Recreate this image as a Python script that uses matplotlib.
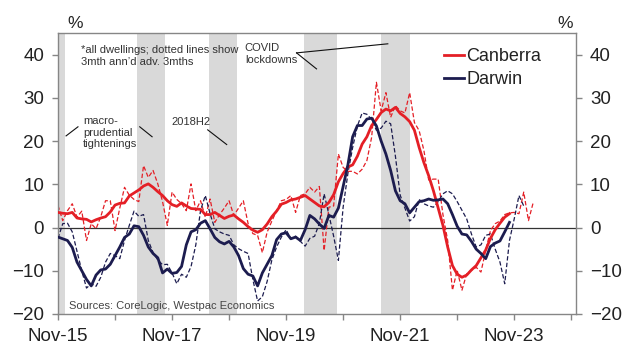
import matplotlib
matplotlib.use("Agg")
import matplotlib.pyplot as plt
import numpy as np

plt.rcParams['font.family'] = ['Liberation Sans', 'DejaVu Sans']

# Monthly series, month 0 = Nov-2015
canberra = [3.5, 3.3, 3.2, 3.5, 2.2, 2.0, 1.9, 1.3, 1.8, 2.2,
            2.5, 3.6, 5.2, 5.6, 5.7, 7.3, 8.0, 8.7, 9.6, 10.1,
            9.3, 8.3, 7.4, 6.2, 5.3, 4.9, 5.7, 5.0, 4.4, 4.3,
            4.2, 3.0, 3.0, 3.5, 2.8, 2.1, 2.6, 2.9, 2.0, 1.2,
            0.2, -0.6, -1.1, -0.5, 0.8, 2.5, 3.8, 5.4, 5.8, 6.4,
            6.6, 7.0, 7.4, 6.6, 5.8, 5.0, 4.8, 5.8, 7.6, 10.6,
            12.5, 14.0, 14.5, 16.5, 19.3, 21.0, 23.6, 25.0, 26.6, 27.4,
            27.0, 27.8, 26.4, 25.6, 24.5, 22.5, 18.5, 15.0, 12.0, 8.5,
            4.5, 0.5, -4.5, -8.8, -10.8, -11.5, -11.0, -9.8, -8.8, -7.0,
            -5.2, -2.5, -0.5, 1.0, 2.4, 3.2]

darwin = [-2.2, -2.6, -3.0, -4.6, -8.0, -10.0, -12.0, -13.5, -11.0, -9.8,
          -9.6, -8.5, -6.5, -4.5, -2.3, -1.5, 0.4, 0.2, -1.8, -4.5,
          -6.0, -7.0, -10.5, -9.6, -10.6, -10.4, -9.0, -4.0, -1.0, -0.5,
          1.0, 1.6, -0.3, -2.3, -3.3, -3.8, -3.2, -4.5, -6.5, -9.5,
          -10.8, -11.2, -13.5, -10.5, -8.5, -6.5, -2.8, -1.5, -1.2, -2.6,
          -2.2, -3.0, -0.5, 2.8, 2.0, 0.8, -0.2, 2.8, 2.4, 4.5,
          9.5, 14.5, 21.0, 23.6, 23.6, 25.1, 25.3, 23.5, 20.0, 17.0,
          13.2, 8.5, 6.2, 5.5, 3.4, 4.7, 6.0, 6.2, 6.6, 6.3,
          6.4, 6.6, 5.5, 3.0, 0.3, -1.5, -1.7, -3.2, -5.0, -6.0,
          -7.2, -4.4, -3.6, -3.1, -1.0, 1.2]

# 3mth annualised, advanced 3 months
canberra_3m = [5.1, 1.6, 3.9, 5.5, 2.4, 3.8, -3.0, 0.9, -0.3, 2.5,
               6.2, 6.2, -0.7, 4.5, 9.3, 7.5, 6.5, 6.0, 14.3, 11.6,
               13.2, 10.1, 6.0, 0.5, 8.2, 6.5, 5.5, 3.9, 10.1, 3.9,
               6.2, 2.4, 6.6, 1.2, 3.0, 4.5, 6.2, 2.8, 4.5, 6.2,
               0.9, -1.4, -1.8, -5.8, -1.1, 1.5, 3.9, 6.2, 6.5, 7.4,
               3.5, 7.4, 7.8, 9.3, 8.2, 9.5, -5.3, 4.7, 5.0, 17.0,
               13.9, 13.0, 13.0, 12.4, 13.5, 15.5, 20.9, 33.6, 27.0, 31.2,
               25.5, 28.2, 27.0, 26.5, 31.2, 24.3, 22.4, 17.8, 11.0, 11.2,
               11.2, 3.0, -3.0, -14.5, -9.9, -14.5, -10.7, -9.9, -9.2, -10.3,
               -5.3, -0.7, 0.9, 1.5, 3.0, 3.4, 3.5, 3.2, 8.2, 1.6,
               5.8]

darwin_3m = [-2.5, 0.9, 1.0, -1.0, -5.5, -10.0, -14.0, -13.0, -13.6, -11.5,
             -8.0, -6.0, -6.5, -7.2, -3.0, 0.5, 3.8, 2.6, 3.0, -3.0,
             -5.8, -7.5, -8.6, -8.5, -10.5, -13.0, -10.8, -11.5, -9.0, -4.0,
             4.0, 7.4, 3.2, -0.3, -1.0, -1.5, -1.8, -4.0, -4.9, -5.5,
             -6.0, -12.0, -17.0, -16.0, -12.5, -7.5, -4.5, -2.2, -0.5, -2.6,
             -2.0, -3.2, -4.3, -2.5, -2.0, 1.0, 7.8, 3.0, -2.0, -7.6,
             4.7, 12.5, 18.5, 23.5, 26.5, 26.2, 25.0, 22.5, 23.0, 24.6,
             24.0, 16.5, 7.5, 4.5, 1.5, 2.5, 6.5, 5.5, 5.0, 4.7,
             6.0, 7.8, 8.5, 7.8, 6.0, 4.0, 2.0, -1.5, -4.5, -4.0,
             -1.8, -1.5, -5.0, -8.0, -13.0, -3.0, 2.0, 7.4, 5.0]

# Shaded periods (months since Nov-2015)
band_start = [-3.0, 16.6, 31.7, 51.8, 67.9]
band_end = [1.5, 22.6, 37.7, 58.7, 74.0]

tick_months = list(range(0, 109, 12))
tick_labels = ['Nov-15', '', 'Nov-17', '', 'Nov-19', '', 'Nov-21', '', 'Nov-23', '']
y_ticks = [-20, -10, 0, 10, 20, 30, 40]

RED = '#e41f26'
NAVY = '#1c1c4f'
GREY = '#868686'

fig = plt.figure(figsize=(6.27, 3.47), dpi=100)
ax = fig.add_axes([58 / 627, 1 - 314 / 347, 518 / 627, 281 / 347])

for s, e in zip(band_start, band_end):
    ax.axvspan(s, e, color='#d9d9d9', lw=0, zorder=0)

ax.axhline(0, color='#333333', lw=0.9, zorder=1)

ax.plot(np.arange(len(canberra_3m)), canberra_3m, color=RED, lw=0.9,
        dashes=(3.5, 1.8), zorder=2)
ax.plot(np.arange(len(darwin_3m)), darwin_3m, color=NAVY, lw=0.9,
        dashes=(3.5, 1.8), zorder=2)
ax.plot(np.arange(len(canberra)), canberra, color=RED, lw=2.0,
        label='Canberra', zorder=3)
ax.plot(np.arange(len(darwin)), darwin, color=NAVY, lw=2.0,
        label='Darwin', zorder=3)

ax.set_xlim(0, 109)
ax.set_ylim(-20, 45)
ax.set_xticks(tick_months)
ax.set_xticklabels(tick_labels)
ax.set_yticks(y_ticks)
for sp in ax.spines.values():
    sp.set_color(GREY)
    sp.set_linewidth(1.0)
ax.tick_params(axis='both', direction='out', length=4, width=1, color=GREY,
               labelsize=13.5, labelcolor='#222222')
ax.tick_params(axis='y', left=True, right=True, labelleft=True, labelright=True, pad=6)
ax.tick_params(axis='x', pad=6)

fig.text(75 / 627, 1 - 23 / 347, '%', fontsize=12.5, color='#222222',
         ha='center', va='center')
fig.text(565 / 627, 1 - 23 / 347, '%', fontsize=12.5, color='#222222',
         ha='center', va='center')

leg = ax.legend(loc='upper left', bbox_to_anchor=(0.745, 0.945), frameon=False,
                fontsize=13, handlelength=1.1, handletextpad=0.15,
                labelspacing=0.3, borderpad=0, borderaxespad=0)
for t in leg.get_texts():
    t.set_color('#222222')

note_kw = dict(fontsize=8, color='#333333', va='top', ha='left', linespacing=1.2)
ax.text(4.8, 42.2, '*all dwellings; dotted lines show\n3mth ann\u2019d adv. 3mths', **note_kw)
ax.text(39.3, 42.6, 'COVID\nlockdowns', **note_kw)
ax.text(5.3, 25.8, 'macro-\nprudential\ntightenings', **note_kw)
ax.text(23.8, 25.5, '2018H2', **note_kw)
ax.text(2.3, -18.2, 'Sources: CoreLogic, Westpac Economics', fontsize=8,
        color='#444444', va='center', ha='left')

pointer_kw = dict(color='#111111', lw=0.8, zorder=4)
ax.plot([50.2, 54.4], [40.4, 36.7], **pointer_kw)
ax.plot([50.2, 69.4], [40.4, 42.5], **pointer_kw)
ax.plot([1.7, 4.2], [21.2, 23.3], **pointer_kw)
ax.plot([17.2, 19.8], [23.3, 21.0], **pointer_kw)
ax.plot([31.5, 35.5], [22.6, 19.2], **pointer_kw)

fig.savefig('out.png', dpi=100)
